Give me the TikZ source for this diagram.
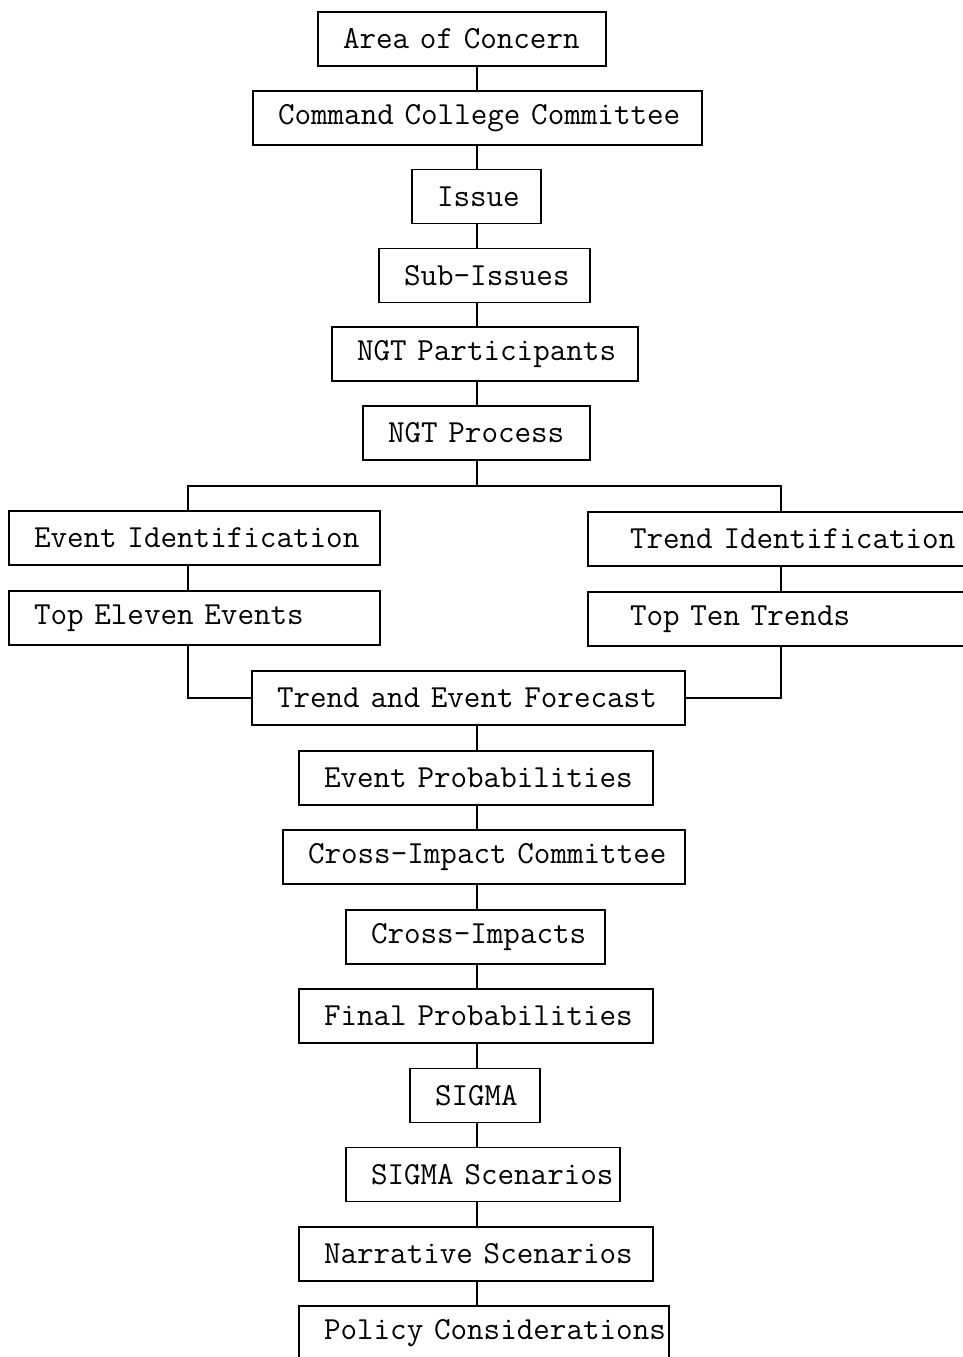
\documentclass[tikz,border=0pt]{standalone}
\usepackage{fontspec}
\usepackage{tikz}
\usetikzlibrary{positioning,calc}
\newlength{\px}
\setlength{\px}{0.02cm}
\hfuzz=30pt
\newcommand{\stagefont}{\ttfamily\fontsize{18.3}{21}\selectfont}
\tikzset{
  stagebox/.style={draw, line width=1.1pt, align=left, inner xsep=25\px, inner ysep=0pt,
    minimum height=54\px, font=\stagefont},
  link/.style={line width=1.1pt},
}

\begin{document}
\begin{tikzpicture}[x=0.02cm, y=-0.02cm]
\useasboundingbox (0,0) rectangle (963,1357);
\coordinate (spine) at (477,0);
\coordinate (lft) at (188,0);
\coordinate (rgt) at (781,0);
\coordinate (fork) at (477,486);
% main column
\node[stagebox, text width=238\px] (area) at (462,39) {\mbox{Area of Concern}};
\node[stagebox, text width=399\px] (ccc) at (477.5,118) {\mbox{Command College Committee}};
\node[stagebox, text width=79\px] (issue) at (476.5,196.5) {\mbox{Issue}};
\node[stagebox, text width=161\px] (subiss) at (484.5,275.5) {\mbox{Sub-Issues}};
\node[stagebox, text width=256\px] (ngtpart) at (485,354) {\mbox{NGT Participants}};
\node[stagebox, text width=177\px] (ngtproc) at (476.5,433) {\mbox{NGT Process}};
% side branches
\node[stagebox, text width=321\px] (evid) at (194.5,538) {\mbox{Event Identification}};
\node[stagebox, text width=321\px] (topev) at (194.5,618) {\mbox{Top Eleven Events}};
\node[stagebox, text width=337\px] (trid) at (781.5,539) {\hspace*{17\px}\mbox{Trend Identification}};
\node[stagebox, text width=337\px] (toptr) at (781.5,619) {\hspace*{17\px}\mbox{Top Ten Trends}};
% forecast chain
\node[stagebox, text width=383\px] (fcast) at (468.5,698) {\mbox{Trend and Event Forecast}};
\node[stagebox, text width=304\px] (evprob) at (476,778) {\mbox{Event Probabilities}};
\node[stagebox, text width=352\px] (cicomm) at (484,857) {\mbox{Cross-Impact Committee}};
\node[stagebox, text width=209\px] (cimp) at (475.5,937) {\mbox{Cross-Impacts}};
\node[stagebox, text width=304\px] (finprob) at (476,1016) {\mbox{Final Probabilities}};
\node[stagebox, text width=80\px] (sigma) at (475,1095.5) {\mbox{SIGMA}};
\node[stagebox, text width=224\px] (sigsc) at (483,1174.5) {\mbox{SIGMA Scenarios}};
\node[stagebox, text width=304\px] (narr) at (476,1254) {\mbox{Narrative Scenarios}};
\node[stagebox, text width=320\px] (policy) at (484,1333) {\mbox{Policy Considerations}};

\foreach \a/\b in {area/ccc, ccc/issue, issue/subiss, subiss/ngtpart, ngtpart/ngtproc,
  fcast/evprob, evprob/cicomm, cicomm/cimp, cimp/finprob, finprob/sigma,
  sigma/sigsc, sigsc/narr, narr/policy}
  \draw[link] (\a.south -| spine) -- (\b.north -| spine);

\draw[link] (ngtproc.south -| spine) -- (fork);
\draw[link] (evid.north -| lft) |- (fork) -| (trid.north -| rgt);
\draw[link] (evid.south -| lft) -- (topev.north -| lft);
\draw[link] (trid.south -| rgt) -- (toptr.north -| rgt);
\draw[link] (topev.south -| lft) |- (fcast.west);
\draw[link] (toptr.south -| rgt) |- (fcast.east);
\end{tikzpicture}
\end{document}
